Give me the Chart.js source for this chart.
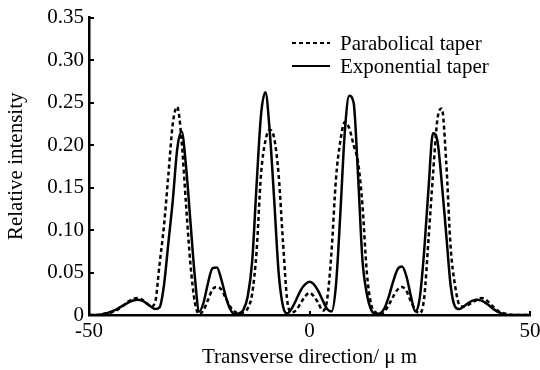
<!DOCTYPE html>
<html>
<head>
<meta charset="utf-8">
<script src="https://cdn.jsdelivr.net/npm/chart.js@4/dist/chart.umd.min.js"></script>
<style>
  html, body { margin: 0; padding: 0; background: #fff; }
  #chart { display: block; }
</style>
</head>
<body>
<canvas id="chart" width="540" height="370"></canvas>
<script>
// transverse position, um (one sample per micron)
const positions = [];
for (let x = -50; x <= 50; x++) positions.push(x);

const parabolic = [
  0, 0, 0, 0.001, 0.002, 0.003, 0.005, 0.008, 0.012, 0.016,      // -50..-41
  0.019, 0.02, 0.018, 0.014, 0.01, 0.015, 0.06, 0.105, 0.165, 0.225, // -40..-31
  0.245, 0.205, 0.13, 0.06, 0.015, 0.001, 0.006, 0.018, 0.03, 0.033,  // -30..-21
  0.03, 0.02, 0.01, 0.004, 0.002, 0.003, 0.008, 0.025, 0.075, 0.165,  // -20..-11
  0.205, 0.218, 0.208, 0.165, 0.085, 0.015, 0.003, 0.006, 0.014, 0.022, // -10..-1
  0.026,                                                              // 0
  0.022, 0.014, 0.005, 0.018, 0.075, 0.16, 0.205, 0.227, 0.22, 0.2,   // 1..10
  0.18, 0.13, 0.05, 0.012, 0.003, 0.001, 0.004, 0.012, 0.022, 0.03,   // 11..20
  0.033, 0.028, 0.016, 0.006, 0.002, 0.02, 0.09, 0.165, 0.23, 0.243,  // 21..30
  0.18, 0.08, 0.035, 0.012, 0.01, 0.012, 0.015, 0.018, 0.02, 0.018,   // 31..40
  0.013, 0.008, 0.004, 0.002, 0.001, 0, 0, 0, 0, 0                    // 41..50
];

const exponential = [
  0, 0, 0, 0.001, 0.002, 0.004, 0.006, 0.009, 0.012, 0.015,        // -50..-41
  0.017, 0.018, 0.017, 0.014, 0.01, 0.007, 0.009, 0.035, 0.085, 0.135, // -40..-31
  0.195, 0.216, 0.175, 0.11, 0.045, 0.004, 0.015, 0.038, 0.055, 0.056, // -30..-21
  0.042, 0.022, 0.007, 0.001, 0.002, 0.006, 0.022, 0.063, 0.153, 0.235, // -20..-11
  0.262, 0.215, 0.135, 0.05, 0.01, 0.002, 0.008, 0.018, 0.029, 0.036,  // -10..-1
  0.039,                                                               // 0
  0.036, 0.028, 0.017, 0.007, 0.004, 0.035, 0.12, 0.215, 0.258, 0.25,  // 1..10
  0.165, 0.065, 0.025, 0.006, 0.001, 0.002, 0.008, 0.022, 0.04, 0.054, // 11..20
  0.057, 0.045, 0.022, 0.004, 0.02, 0.075, 0.15, 0.214, 0.205, 0.155,  // 21..30
  0.095, 0.035, 0.01, 0.007, 0.01, 0.014, 0.017, 0.018, 0.017, 0.014,  // 31..40
  0.01, 0.006, 0.003, 0.001, 0, 0, 0, 0, 0, 0                          // 41..50
];

const seriesNames = ['Parabolical taper', 'Exponential taper'];
const yTicks = [0, 0.05, 0.1, 0.15, 0.2, 0.25, 0.3, 0.35];
const xTicks = [-50, 0, 50];

const FONT = '"Liberation Serif", "Times New Roman", serif';
const FS = 21;

const toPoints = ys => positions.map((x, i) => ({ x: x, y: ys[i] }));

// inward ticks + legend drawn inside the plot
const extras = {
  id: 'extras',
  afterDraw(chart) {
    const ctx = chart.ctx;
    const xs = chart.scales.x, ys = chart.scales.y;
    const area = chart.chartArea;
    ctx.save();
    ctx.strokeStyle = '#000';
    ctx.lineWidth = 2;
    yTicks.forEach(v => {
      const py = Math.round(ys.getPixelForValue(v));
      ctx.beginPath();
      ctx.moveTo(area.left, py);
      ctx.lineTo(area.left + 5, py);
      ctx.stroke();
    });
    xTicks.forEach(v => {
      const px = Math.round(xs.getPixelForValue(v));
      ctx.beginPath();
      ctx.moveTo(px, area.bottom);
      ctx.lineTo(px, area.bottom - 4);
      ctx.stroke();
    });

    // legend
    ctx.font = FS + 'px ' + FONT;
    ctx.fillStyle = '#000';
    ctx.textBaseline = 'middle';
    const lx = 292, lw = 38, rows = [43, 66];
    chart.data.datasets.forEach((ds, i) => {
      ctx.beginPath();
      ctx.lineWidth = 2;
      ctx.setLineDash(ds.borderDash || []);
      ctx.moveTo(lx, rows[i]);
      ctx.lineTo(lx + lw, rows[i]);
      ctx.stroke();
      ctx.setLineDash([]);
      ctx.fillText(ds.label, lx + lw + 10, rows[i] + 1);
    });
    ctx.restore();
  }
};

new Chart(document.getElementById('chart'), {
  type: 'line',
  data: {
    datasets: [
      {
        label: seriesNames[0],
        data: toPoints(parabolic),
        borderColor: '#000',
        borderWidth: 2.5,
        borderDash: [4, 3],
        pointRadius: 0,
        cubicInterpolationMode: 'monotone',
        fill: false
      },
      {
        label: seriesNames[1],
        data: toPoints(exponential),
        borderColor: '#000',
        borderWidth: 2.5,
        pointRadius: 0,
        cubicInterpolationMode: 'monotone',
        fill: false
      }
    ]
  },
  plugins: [extras],
  options: {
    responsive: false,
    animation: false,
    devicePixelRatio: 1,
    layout: { padding: { top: 6, right: 0, left: 0, bottom: 0 } },
    plugins: {
      legend: { display: false },
      tooltip: { enabled: false }
    },
    scales: {
      x: {
        type: 'linear',
        min: -50,
        max: 50,
        border: { display: true, color: '#000', width: 2.5 },
        grid: { display: false, drawTicks: false, tickLength: 0 },
        afterBuildTicks(scale) {
          scale.ticks = xTicks.map(v => ({ value: v }));
        },
        afterFit(scale) {
          scale.height = 55;
          scale.paddingRight = 10;
        },
        ticks: {
          autoSkip: false,
          maxRotation: 0,
          color: '#000',
          padding: 4,
          font: { family: FONT, size: FS }
        },
        title: {
          display: true,
          text: 'Transverse direction/ μ m',
          color: '#000',
          padding: { top: 0, bottom: 0 },
          font: { family: FONT, size: FS }
        }
      },
      y: {
        min: 0,
        max: 0.35,
        border: { display: true, color: '#000', width: 2.5 },
        grid: { display: false, drawTicks: false, tickLength: 0 },
        afterBuildTicks(scale) {
          scale.ticks = yTicks.map(v => ({ value: v }));
        },
        afterFit(scale) { scale.width = 89; },
        ticks: {
          autoSkip: false,
          color: '#000',
          padding: 5,
          font: { family: FONT, size: FS },
          callback: v => (v === 0 ? '0' : v.toFixed(2))
        },
        title: {
          display: true,
          text: 'Relative intensity',
          color: '#000',
          padding: { top: 4, bottom: 0 },
          font: { family: FONT, size: FS }
        }
      }
    }
  }
});
</script>
</body>
</html>
